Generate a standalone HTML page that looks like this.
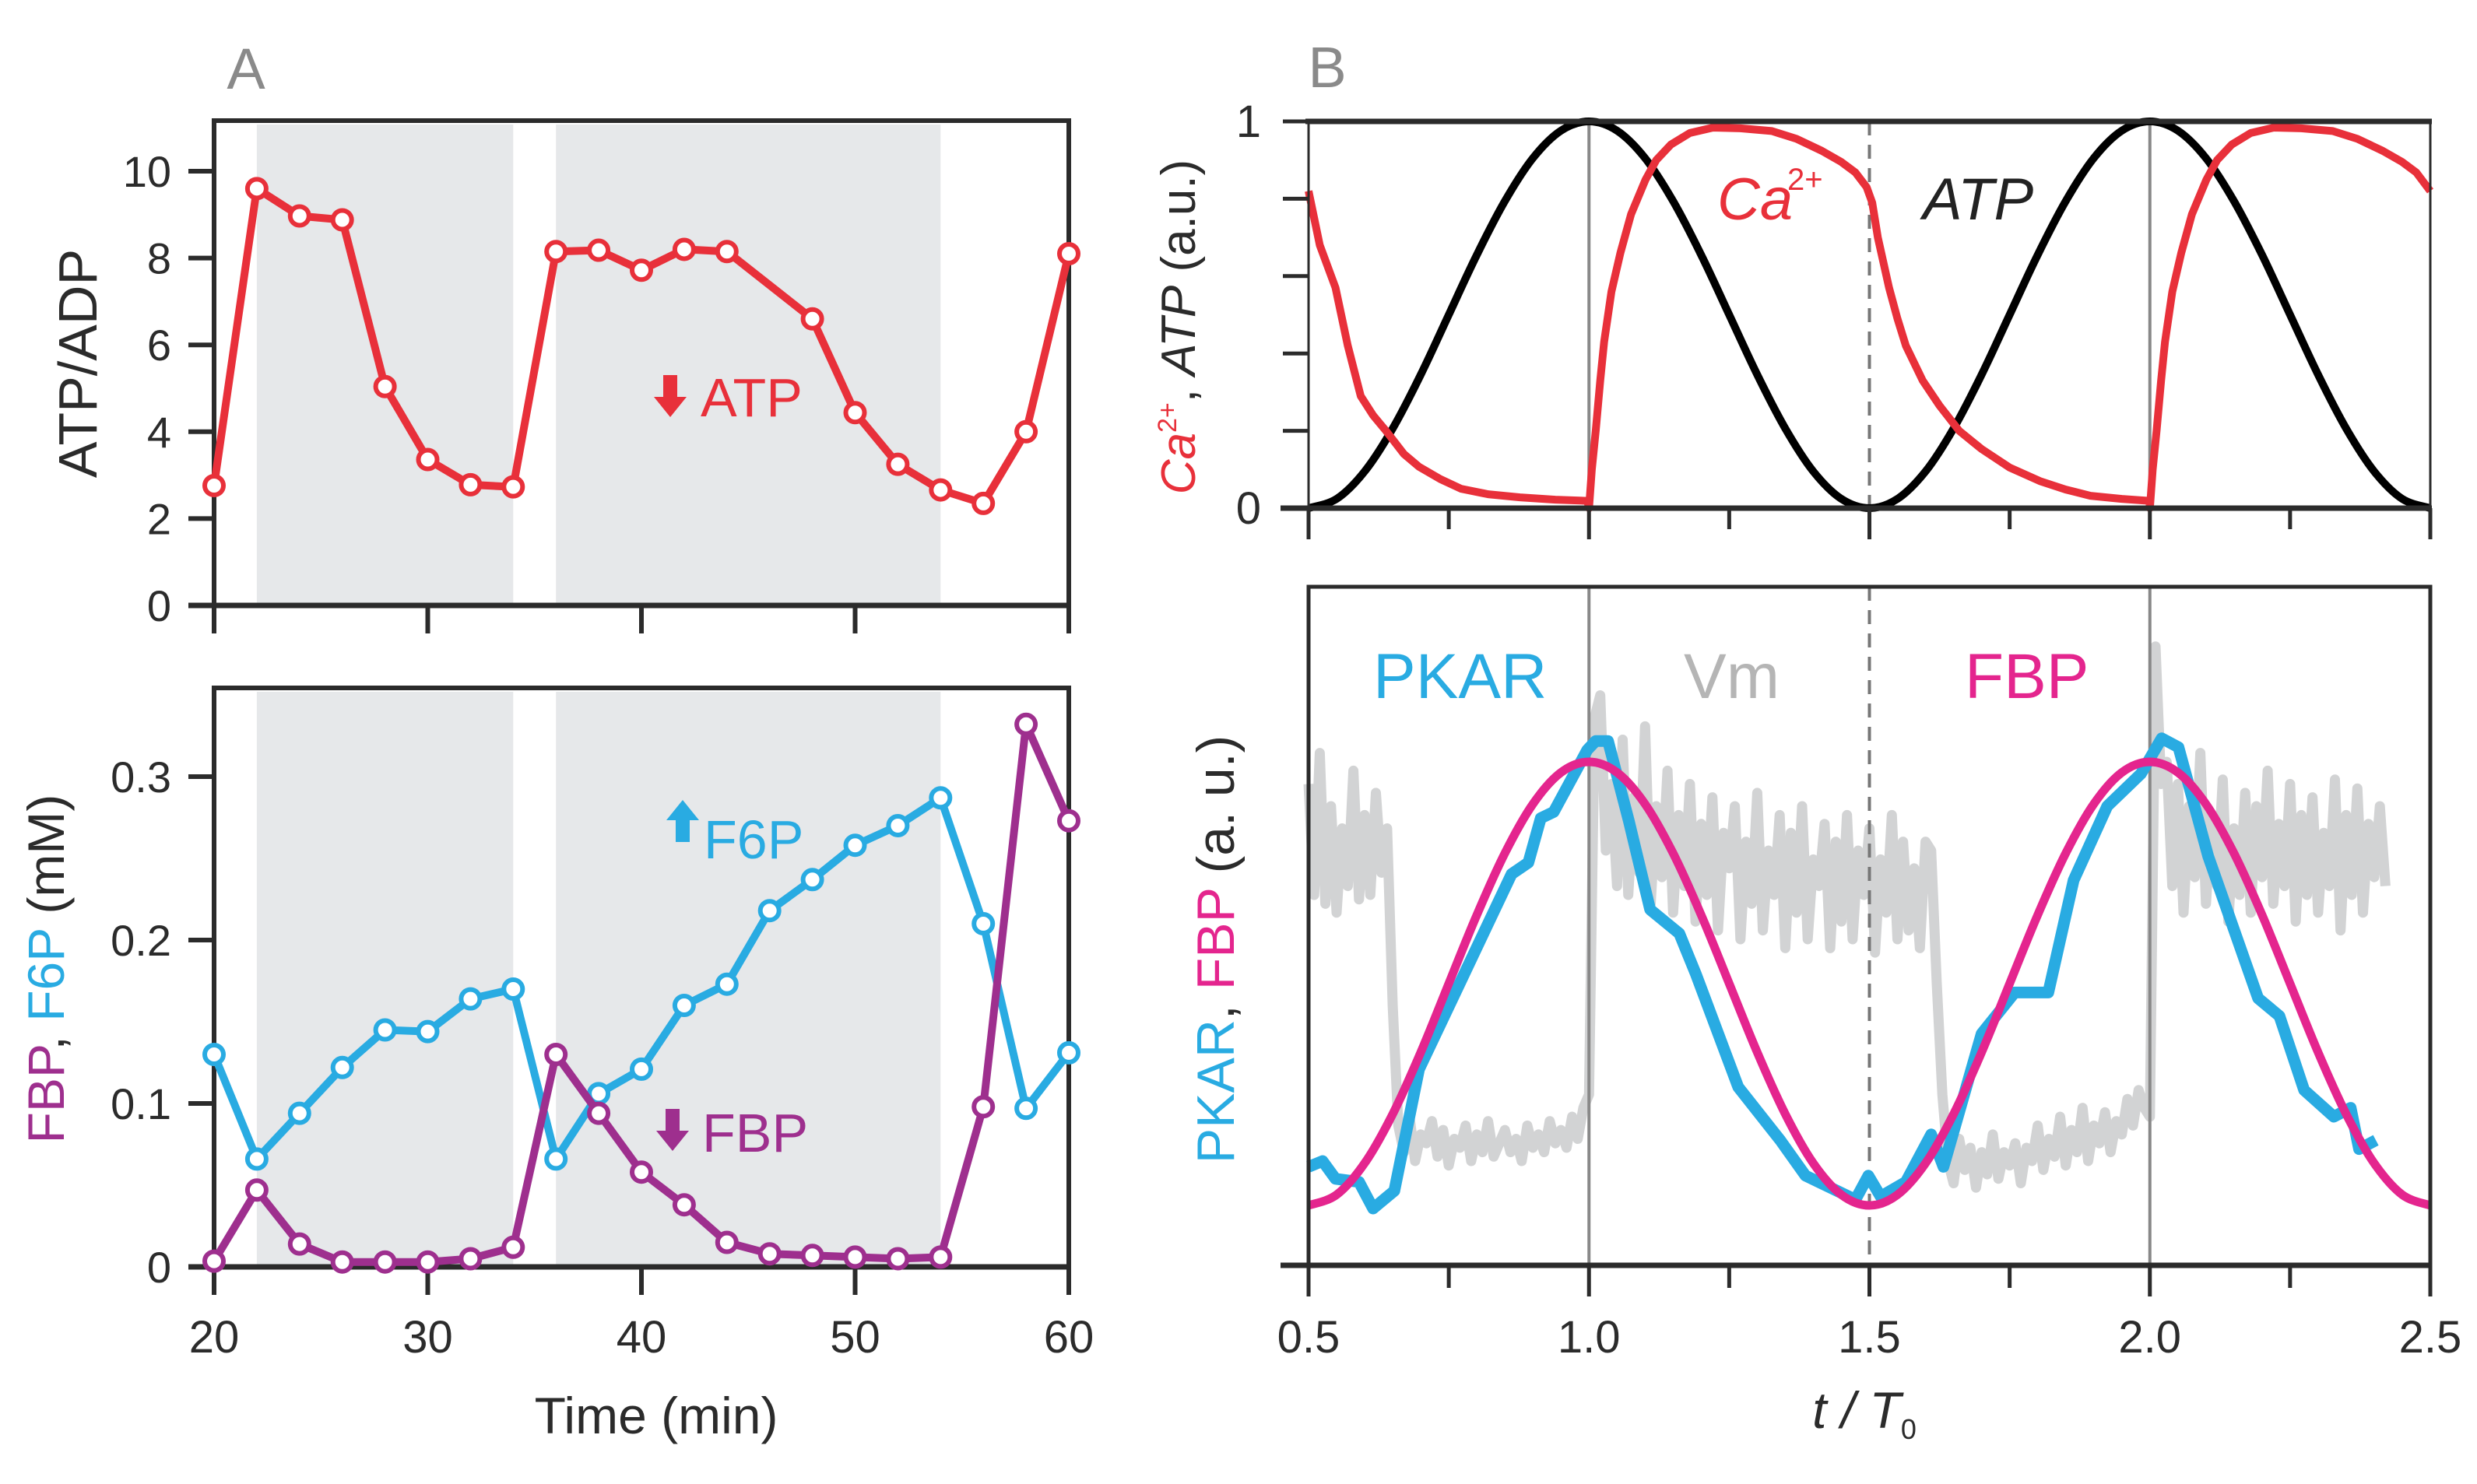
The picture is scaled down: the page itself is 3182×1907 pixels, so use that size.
<!DOCTYPE html>
<html><head><meta charset="utf-8"><style>
html,body{margin:0;padding:0;background:#fff;}
svg{display:block;font-family:"Liberation Sans",sans-serif;}
</style></head><body>
<svg id="fig" width="3182" height="1907" viewBox="0 0 3182 1907" xmlns="http://www.w3.org/2000/svg">
<g id="A"></g>
<g id="B"></g>
</svg>
<script>
// ---------- Panel A data ----------
const atpMin = [20,22,24,26,28,30,32,34,36,38,40,42,44,48,50,52,54,56,58,60];
const atpVals = [2.76,9.6,8.97,8.88,5.04,3.36,2.78,2.73,8.15,8.18,7.72,8.2,8.15,6.6,4.44,3.25,2.66,2.35,4.0,8.1];
const timeMin = [20,22,24,26,28,30,32,34,36,38,40,42,44,46,48,50,52,54,56,58,60];
const f6pVals = [0.130,0.066,0.094,0.122,0.145,0.144,0.164,0.170,0.066,0.106,0.121,0.160,0.173,0.218,0.237,0.258,0.270,0.287,0.210,0.097,0.131];
const fbpVals = [0.0035,0.047,0.014,0.003,0.003,0.003,0.005,0.012,0.130,0.094,0.058,0.038,0.015,0.008,0.007,0.006,0.005,0.006,0.098,0.332,0.273];
const bands = [[22,34],[36,54]];
const atpTicks = [0,2,4,6,8,10];
const mmTicks = [0,0.1,0.2,0.3];
const minTicks = [20,30,40,50,60];
// ---------- Panel B data ----------
const caT = [0.5,0.52,0.548,0.57,0.593,0.615,0.638,0.67,0.697,0.735,0.772,0.82,0.877,0.94,0.997,1.0,1.005,1.012,1.02,1.027,1.04,1.056,1.075,1.101,1.12,1.146,1.18,1.221,1.27,1.326,1.37,1.415,1.45,1.475,1.495,1.505,1.515,1.535,1.55,1.565,1.595,1.625,1.66,1.7,1.75,1.804,1.85,1.894,1.95,1.999,2.0,2.005,2.012,2.02,2.027,2.04,2.056,2.075,2.101,2.12,2.146,2.18,2.221,2.27,2.326,2.37,2.415,2.45,2.475,2.5];
const caV = [0.82,0.68,0.57,0.42,0.29,0.24,0.2,0.14,0.107,0.075,0.05,0.036,0.028,0.022,0.019,0.0,0.1,0.2,0.33,0.43,0.56,0.66,0.76,0.85,0.9,0.94,0.97,0.984,0.982,0.975,0.955,0.924,0.895,0.868,0.83,0.79,0.7,0.57,0.49,0.42,0.33,0.265,0.2,0.153,0.105,0.07,0.048,0.032,0.024,0.019,0.0,0.1,0.2,0.33,0.43,0.56,0.66,0.76,0.85,0.9,0.94,0.97,0.984,0.982,0.975,0.955,0.924,0.895,0.868,0.82];
const atpBT = [0.5,0.55,0.6,0.65,0.7,0.75,0.8,0.85,0.9,0.95,1.0,1.05,1.1,1.15,1.2,1.25,1.3,1.35,1.4,1.45,1.5,1.55,1.6,1.65,1.7,1.75,1.8,1.85,1.9,1.95,2.0,2.05,2.1,2.15,2.2,2.25,2.3,2.35,2.4,2.45,2.5];
const atpBV = [0,0.024,0.095,0.206,0.345,0.5,0.655,0.794,0.905,0.976,1,0.976,0.905,0.794,0.655,0.5,0.345,0.206,0.095,0.024,0,0.024,0.095,0.206,0.345,0.5,0.655,0.794,0.905,0.976,1,0.976,0.905,0.794,0.655,0.5,0.345,0.206,0.095,0.024,0];
const fbpBV = [0,0.024,0.095,0.206,0.345,0.5,0.655,0.794,0.905,0.976,1,0.976,0.905,0.794,0.655,0.5,0.345,0.206,0.095,0.024,0,0.024,0.095,0.206,0.345,0.5,0.655,0.794,0.905,0.976,1,0.976,0.905,0.794,0.655,0.5,0.345,0.206,0.095,0.024,0];
const pkarT = [0.5,0.525,0.548,0.59,0.615,0.653,0.697,0.757,0.817,0.862,0.892,0.914,0.937,0.997,1.012,1.034,1.071,1.109,1.161,1.191,1.266,1.341,1.386,1.475,1.498,1.52,1.565,1.61,1.632,1.7,1.759,1.819,1.864,1.924,1.984,2.021,2.051,2.104,2.193,2.231,2.275,2.328,2.358,2.373,2.403];
const pkarV = [0.087,0.1,0.06,0.053,-0.007,0.033,0.307,0.467,0.627,0.747,0.773,0.873,0.887,1.027,1.047,1.047,0.867,0.667,0.613,0.52,0.267,0.147,0.067,0.013,0.067,0.02,0.053,0.16,0.087,0.387,0.48,0.48,0.733,0.9,0.973,1.053,1.033,0.787,0.467,0.427,0.26,0.2,0.22,0.127,0.147];
const vmStart = 0.5, vmStep = 0.01;
const vmV = [0.95,0.70,1.02,0.68,0.90,0.66,0.85,0.72,0.98,0.69,0.88,0.70,0.93,0.75,0.85,
0.45,
0.18,0.12,0.20,0.10,0.16,0.14,0.19,0.11,0.17,0.09,0.15,0.13,0.18,0.10,0.16,0.12,0.19,0.11,0.14,0.17,0.12,0.15,0.10,0.18,0.13,0.16,0.12,0.19,0.14,0.17,0.13,0.20,0.15,0.22,
0.25,1.10,1.15,0.80,
0.95,0.72,1.05,0.70,0.92,0.75,1.08,0.68,0.90,0.74,0.98,0.66,0.88,0.72,0.95,0.64,0.86,0.70,0.92,0.62,0.84,0.76,0.90,0.60,0.82,0.68,0.93,0.62,0.80,0.70,0.88,0.58,0.84,0.66,0.90,0.60,0.78,0.72,0.86,0.58,0.82,0.64,0.88,0.60,0.80,0.70,0.85,0.57,0.78,0.66,0.88,0.60,0.82,0.62,0.76,0.58,0.82,
0.80,0.50,0.25,
0.10,0.05,0.15,0.08,0.13,0.04,0.12,0.07,0.16,0.06,0.12,0.09,0.14,0.05,0.13,0.10,0.18,0.08,0.15,0.11,0.20,0.09,0.17,0.12,0.22,0.10,0.18,0.14,0.21,0.12,0.19,0.16,0.24,0.18,0.26,0.22,
0.20,1.26,0.95,
1.00,0.72,0.95,0.66,0.90,0.74,1.02,0.68,0.88,0.72,0.96,0.64,0.85,0.70,0.93,0.66,0.90,0.74,0.98,0.68,0.86,0.72,0.95,0.64,0.88,0.70,0.92,0.66,0.84,0.72,0.96,0.62,0.88,0.70,0.94,0.66,0.86,0.74,0.90,0.72];
const bTicks = [0.5,1.0,1.5,2.0,2.5];
const bMinor = [0.75,1.25,1.75,2.25];
const caTicks = [0,0.2,0.4,0.6,0.8,1];

// ---------- scales ----------
const xa = m => 275 + (m-20)*27.45;
const ya1 = v => 778 - v*55.8;
const ya2 = v => 1628 - v*2100;
const xb = t => 1681 + (t-0.5)*720.5;
const yb1 = v => 653 - v*497;
const yb2 = v => 1549 - v*570;

const NS = "http://www.w3.org/2000/svg";
function mk(parent, tag, attrs, text){
  const e = document.createElementNS(NS, tag);
  for (const k in attrs) e.setAttribute(k, attrs[k]);
  if (text !== undefined) e.textContent = text;
  parent.appendChild(e);
  return e;
}
function pts(xs, ys, fx, fy){ return xs.map((x,i)=>fx(x).toFixed(1)+","+fy(ys[i]).toFixed(1)).join(" "); }
function spline(xs, ys, fx, fy){
  const P = xs.map((x,i)=>[fx(x), fy(ys[i])]);
  let d = "M"+P[0][0]+","+P[0][1];
  for (let i=0;i<P.length-1;i++){
    const p0=P[Math.max(0,i-1)], p1=P[i], p2=P[i+1], p3=P[Math.min(P.length-1,i+2)];
    const c1=[p1[0]+(p2[0]-p0[0])/6, p1[1]+(p2[1]-p0[1])/6];
    const c2=[p2[0]-(p3[0]-p1[0])/6, p2[1]-(p3[1]-p1[1])/6];
    d += " C"+c1[0].toFixed(1)+","+c1[1].toFixed(1)+" "+c2[0].toFixed(1)+","+c2[1].toFixed(1)+" "+p2[0].toFixed(1)+","+p2[1].toFixed(1);
  }
  return d;
}
const AX = "#2b2b2b";
const A = document.getElementById("A");
const B = document.getElementById("B");

// ================= PANEL A =================
let t = mk(A,"text",{x:316,y:114,"font-size":74,fill:"#8a8a8a","text-anchor":"middle"},"A");
 

function panelA(top, bottom, yfun, ticks, fmt, name){
  const g = mk(A,"g",{});
   
  bands.forEach(b=>{
    const r = mk(g,"rect",{x:xa(b[0]),y:top+5,width:xa(b[1])-xa(b[0]),height:bottom-top-8,fill:"#e6e8ea"});
     
  });
  const box = mk(g,"path",{d:`M${xa(20)},${bottom} V${top} H${xa(60)} V${bottom}`,fill:"none",stroke:AX,"stroke-width":6});
   
  const xl = mk(g,"line",{x1:242,y1:bottom,x2:xa(60)+3,y2:bottom,stroke:AX,"stroke-width":7});
   
  ticks.forEach(v=>{
    const l = mk(g,"line",{x1:242,x2:xa(20),y1:yfun(v),y2:yfun(v),stroke:AX,"stroke-width":6});
     
    const tx = mk(g,"text",{x:220,y:yfun(v)+20,"font-size":56,fill:AX,"text-anchor":"end"},fmt(v));
     
  });
  minTicks.forEach(m=>{
    const l = mk(g,"line",{x1:xa(m),x2:xa(m),y1:bottom,y2:bottom+36,stroke:AX,"stroke-width":6});
     
  });
  return g;
}
function series(g, xs, ys, fy, color, name){
  const pl = mk(g,"polyline",{points:pts(xs,ys,xa,fy),fill:"none",stroke:color,"stroke-width":10,"stroke-linejoin":"round"});
   
  xs.forEach((x,i)=>{
    const c = mk(g,"circle",{cx:xa(x),cy:fy(ys[i]),r:12,fill:"#fff",stroke:color,"stroke-width":6});
     
  });
}
const gA1 = panelA(155, 778, ya1, atpTicks, v=>String(v), 'atp-adp-chart');
series(gA1, atpMin, atpVals, ya1, "#e8303a", 'atp-adp');
t = mk(gA1,"text",{x:99,y:467,"font-size":70,fill:AX,"text-anchor":"middle",transform:"rotate(-90 99 467)",dy:25},"ATP/ADP");
 
t = mk(gA1,"path",{d:"M852,482 h18 v28 h12 l-21,26 l-21,-26 h12 z",fill:"#e8303a"});
 
t = mk(gA1,"text",{x:900,y:535,"font-size":70,fill:"#e8303a"},"ATP");
 

const gA2 = panelA(884, 1628, ya2, mmTicks, v=>v===0?"0":v.toFixed(1), 'fbp-f6p-chart');
series(gA2, timeMin, f6pVals, ya2, "#29abe2", 'f6p');
series(gA2, timeMin, fbpVals, ya2, "#9e2f8e", 'fbp');
minTicks.forEach(m=>{
  const tx = mk(gA2,"text",{x:xa(m),y:1738,"font-size":58,fill:AX,"text-anchor":"middle"},String(m));
   
});
t = mk(gA2,"text",{x:843,y:1842,"font-size":66,fill:AX,"text-anchor":"middle"},"Time (min)");
 
t = mk(gA2,"text",{transform:"translate(82 1245) rotate(-90)","font-size":66,"text-anchor":"middle"});
 
mk(t,"tspan",{fill:"#9e2f8e"},"FBP");
mk(t,"tspan",{fill:AX},", ");
mk(t,"tspan",{fill:"#29abe2"},"F6P");
mk(t,"tspan",{fill:AX},"  (mM)");
t = mk(gA2,"path",{d:"M856,1054 l21,-26 l21,26 h-12 v28 h-18 v-28 z",fill:"#29abe2"});
 
t = mk(gA2,"text",{x:904,y:1103,"font-size":70,fill:"#29abe2"},"F6P");
 
t = mk(gA2,"path",{d:"M855,1425 h18 v28 h12 l-21,26 l-21,-26 h12 z",fill:"#9e2f8e"});
 
t = mk(gA2,"text",{x:902,y:1480,"font-size":70,fill:"#9e2f8e"},"FBP");
 

// ================= PANEL B =================
t = mk(B,"text",{x:1705,y:112,"font-size":74,fill:"#8a8a8a","text-anchor":"middle"},"B");
 

// top chart
const gB1 = mk(B,"g",{});
 
[1.0,2.0].forEach(v=>{
  const l = mk(gB1,"line",{x1:xb(v),x2:xb(v),y1:156,y2:653,stroke:"#888","stroke-width":4});
   
});
t = mk(gB1,"line",{x1:xb(1.5),x2:xb(1.5),y1:156,y2:653,stroke:"#777","stroke-width":4,"stroke-dasharray":"18,12"});
 
t = mk(gB1,"path",{d:spline(atpBT,atpBV,xb,yb1),fill:"none",stroke:"#000","stroke-width":10});
 
t = mk(gB1,"polyline",{points:pts(caT,caV,xb,yb1),fill:"none",stroke:"#e8303a","stroke-width":10,"stroke-linejoin":"round"});
 
t = mk(gB1,"path",{d:`M${xb(0.5)},653 V156 H${xb(2.5)} V653`,fill:"none",stroke:AX,"stroke-width":3});
 
t = mk(gB1,"line",{x1:xb(0.5)-4,x2:xb(2.5)+2,y1:156,y2:156,stroke:AX,"stroke-width":7});
 
t = mk(gB1,"line",{x1:1645,x2:xb(2.5)+2,y1:653,y2:653,stroke:AX,"stroke-width":7});
 
caTicks.forEach(v=>{
  const l = mk(gB1,"line",{x1:1648,x2:xb(0.5),y1:yb1(v),y2:yb1(v),stroke:AX,"stroke-width":5});
   
});
[[0,"0"],[1,"1"]].forEach(p=>{
  const tx = mk(gB1,"text",{x:1620,y:yb1(p[0])+20,"font-size":58,fill:AX,"text-anchor":"end"},p[1]);
   
});
bTicks.forEach(v=>{
  const l = mk(gB1,"line",{x1:xb(v),x2:xb(v),y1:653,y2:693,stroke:AX,"stroke-width":5});
   
});
bMinor.forEach(v=>{
  const l = mk(gB1,"line",{x1:xb(v),x2:xb(v),y1:653,y2:680,stroke:AX,"stroke-width":5});
   
});
t = mk(gB1,"text",{x:2206,y:282,"font-size":76,fill:"#e8303a","font-style":"italic"},"Ca");
 
t = mk(gB1,"text",{x:2296,y:244,"font-size":40,fill:"#e8303a"},"2+");
 
t = mk(gB1,"text",{x:2470,y:282,"font-size":76,fill:"#222","font-style":"italic"},"ATP");
 
t = mk(gB1,"text",{transform:"translate(1535 420) rotate(-90)","font-size":62,"text-anchor":"middle"});
 
mk(t,"tspan",{fill:"#e8303a","font-style":"italic"},"Ca");
mk(t,"tspan",{fill:"#e8303a","font-size":34,dy:-24},"2+");
mk(t,"tspan",{fill:AX,dy:24},", ");
mk(t,"tspan",{fill:AX,"font-style":"italic"},"ATP");
mk(t,"tspan",{fill:AX},"  (a.u.)");

// bottom chart
const gB2 = mk(B,"g",{});
 
const vmT = vmV.map((v,i)=>vmStart+i*vmStep);
t = mk(gB2,"polyline",{points:pts(vmT,vmV,xb,yb2),fill:"none",stroke:"#d2d3d4","stroke-width":13,"stroke-linejoin":"round"});
 
[1.0,2.0].forEach(v=>{
  const l = mk(gB2,"line",{x1:xb(v),x2:xb(v),y1:754,y2:1626,stroke:"#888","stroke-width":4});
   
});
t = mk(gB2,"line",{x1:xb(1.5),x2:xb(1.5),y1:754,y2:1626,stroke:"#777","stroke-width":4,"stroke-dasharray":"18,12"});
 
t = mk(gB2,"polyline",{points:pts(pkarT,pkarV,xb,yb2),fill:"none",stroke:"#29abe2","stroke-width":15,"stroke-linejoin":"round"});
 
t = mk(gB2,"path",{d:spline(atpBT,fbpBV,xb,yb2),fill:"none",stroke:"#e4258e","stroke-width":11});
 
t = mk(gB2,"path",{d:`M${xb(0.5)},1626 V754 H${xb(2.5)} V1626`,fill:"none",stroke:AX,"stroke-width":5});
 
t = mk(gB2,"line",{x1:1645,x2:xb(2.5)+2,y1:1626,y2:1626,stroke:AX,"stroke-width":7});
 
bTicks.forEach(v=>{
  const l = mk(gB2,"line",{x1:xb(v),x2:xb(v),y1:1626,y2:1666,stroke:AX,"stroke-width":5});
   
  const tx = mk(gB2,"text",{x:xb(v),y:1738,"font-size":58,fill:AX,"text-anchor":"middle"},v.toFixed(1));
   
});
bMinor.forEach(v=>{
  const l = mk(gB2,"line",{x1:xb(v),x2:xb(v),y1:1626,y2:1655,stroke:AX,"stroke-width":5});
   
});
t = mk(gB2,"text",{x:2395,y:1835,"font-size":66,fill:AX,"text-anchor":"middle","font-style":"italic"});
 
mk(t,"tspan",{},"t / T");
mk(t,"tspan",{"font-size":36,dy:14,"font-style":"normal"},"0");
t = mk(gB2,"text",{x:1764,y:897,"font-size":82,fill:"#29abe2"},"PKAR");
 
t = mk(gB2,"text",{x:2163,y:897,"font-size":82,fill:"#b5b5b5"},"Vm");
 
t = mk(gB2,"text",{x:2524,y:897,"font-size":82,fill:"#e4258e"},"FBP");
 
t = mk(gB2,"text",{transform:"translate(1585 1220) rotate(-90)","font-size":68,"text-anchor":"middle"});
 
mk(t,"tspan",{fill:"#29abe2"},"PKAR");
mk(t,"tspan",{fill:AX},", ");
mk(t,"tspan",{fill:"#e4258e"},"FBP");
mk(t,"tspan",{fill:AX}," (a. u.)");
</script>
</body></html>
